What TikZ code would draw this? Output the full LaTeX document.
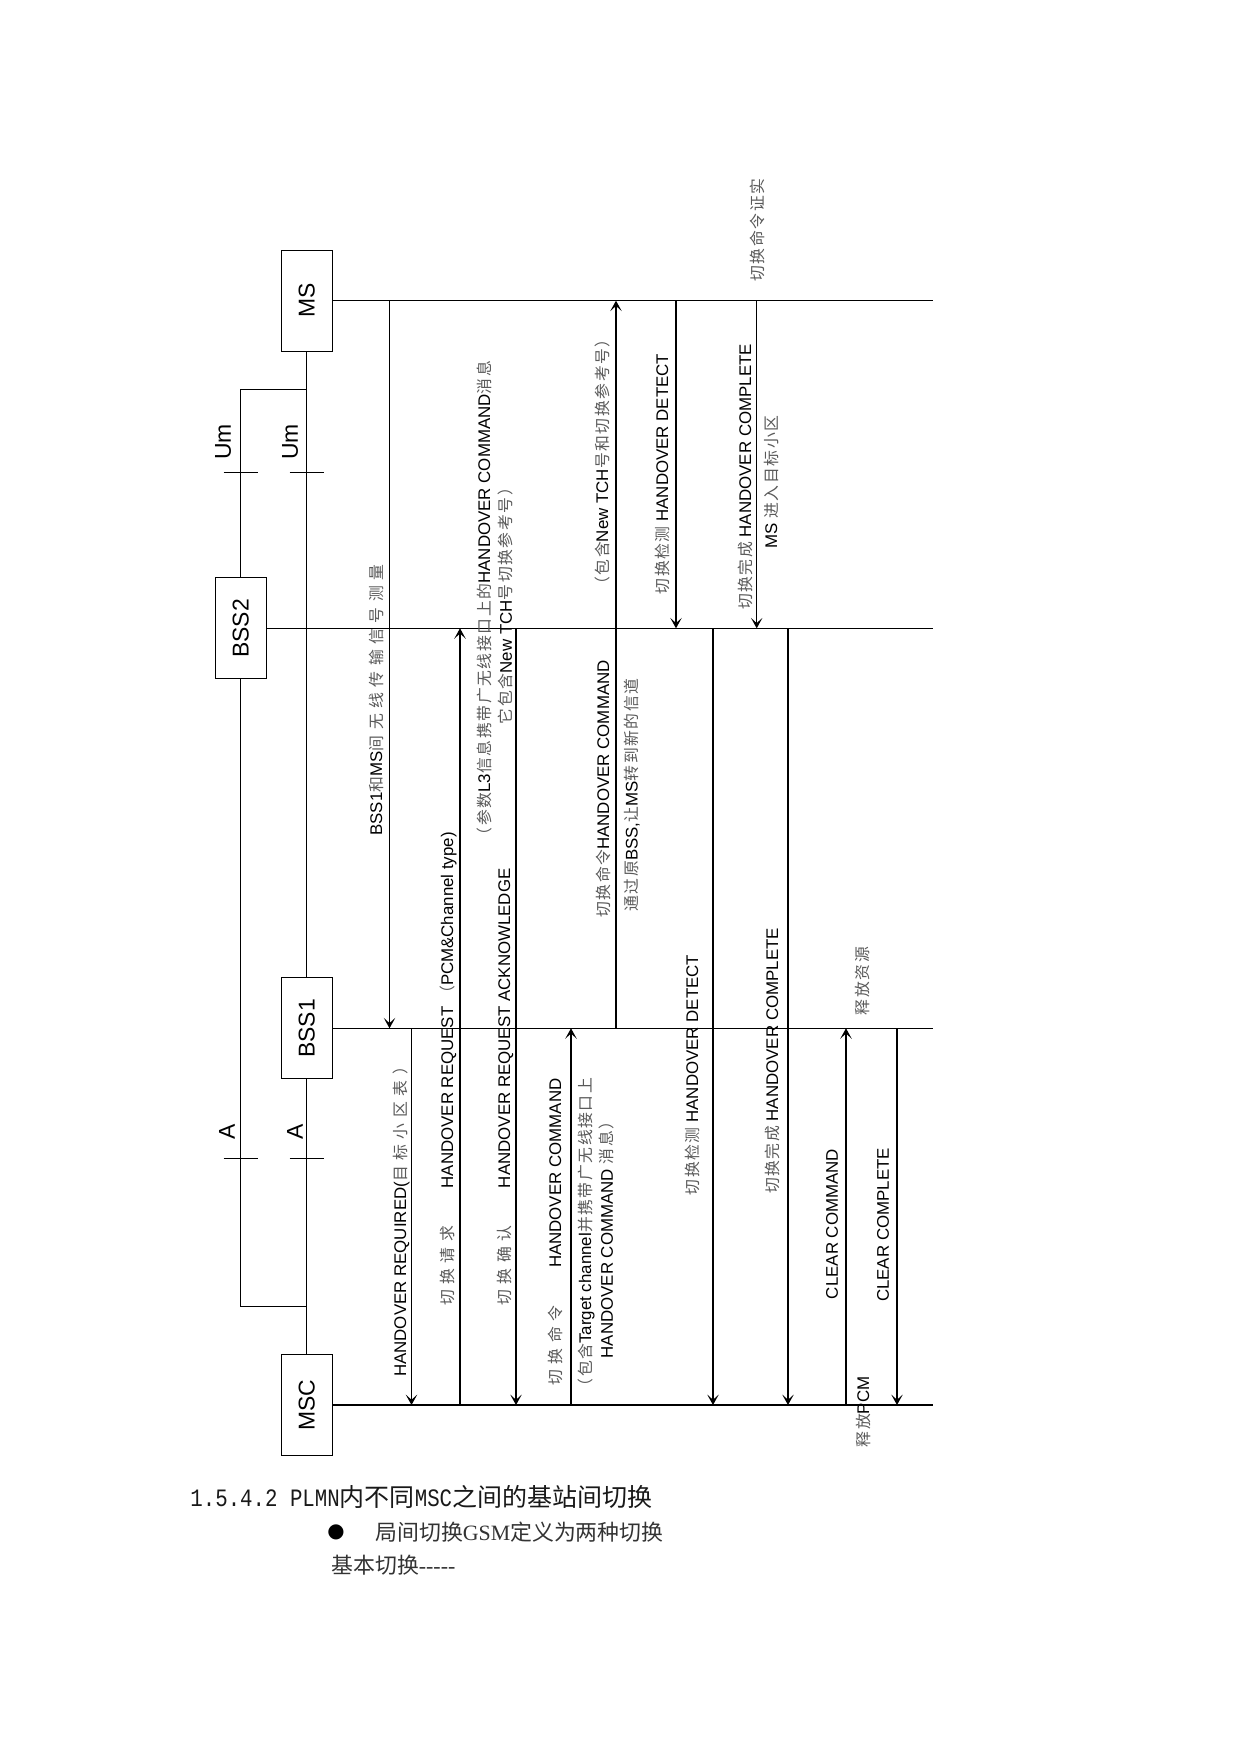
\documentclass[tikz,border=0pt]{standalone}
\usepackage{fontspec}
\setmainfont{Liberation Sans}
\newfontfamily\zhlab[LetterSpace=10]{Noto Sans CJK SC}
\newfontfamily\zhlabwide[LetterSpace=35]{Noto Sans CJK SC}
\newfontfamily\zhbody{Noto Sans CJK SC}
\newfontfamily\latmono[FakeStretch=0.83]{Liberation Mono}
\newfontfamily\latserif[Ligatures=TeXOff]{Liberation Serif}
\newfontfamily\symfont{DejaVu Sans}
\usetikzlibrary{arrows.meta,positioning,calc}
\newcommand{\zhtxt}[1]{{\fontsize{7.6}{10}\selectfont\zhlab\color{black!65}#1}}
\newcommand{\zhwide}[1]{{\fontsize{7.6}{10}\selectfont\zhlabwide\color{black!65}#1}}

\begin{document}
\begin{tikzpicture}[
    x=0.48pt, y=-0.48pt,
    every node/.style={font=\fontsize{8.1}{10.5}\selectfont},
    entity/.style={draw, line width=0.6pt, minimum width=24.5pt,
                   minimum height=48.5pt, inner sep=0pt,
                   font=\fontsize{11}{13}\selectfont},
    lifeline/.style={line width=0.6pt},
    msg/.style={line width=0.6pt,
                -{Stealth[length=5pt,width=5.5pt,inset=2.5pt]}},
    lab/.style={rotate=90, inner sep=0pt, align=center},
    ifname/.style={lab, font=\fontsize{11}{13}\selectfont},
  ]
  \useasboundingbox (0,0) rectangle (1241,1754);

  % entities and lifelines
  \node[entity] (ms)   at (306.7,300.7)  {\rotatebox{90}{MS}};
  \node[entity] (bss2) at (240.7,628.3)  {\rotatebox{90}{BSS2}};
  \node[entity] (bss1) at (306.7,1028.3) {\rotatebox{90}{BSS1}};
  \node[entity] (msc)  at (306.7,1405)   {\rotatebox{90}{MSC}};
  \foreach \n in {ms,bss2,bss1,msc} {
    \coordinate (\n-end) at (933,0 |- \n);
    \draw[lifeline] (\n.east) -- (\n-end);
  }

  % interfaces Um and A
  \coordinate (umJoin) at (306.7,389.3);
  \coordinate (aJoin)  at (306.7,1306.7);
  \draw[lifeline] (ms.south) -- (bss1.north);
  \draw[lifeline] (umJoin) -| (bss2.north);
  \draw[lifeline] (bss2.south) |- (aJoin);
  \draw[lifeline] (bss1.south) -- (msc.north);
  \coordinate (umRow) at (0,472.3);
  \coordinate (aRow)  at (0,1158.3);
  \foreach \n in {bss2,ms}  \draw[lifeline] (\n |- umRow) ++(-17,0) -- ++(34,0);
  \foreach \n in {bss2,msc} \draw[lifeline] (\n |- aRow) ++(-17,0) -- ++(34,0);
  \node[ifname] (umLeft)  at (223,442)  {Um};
  \node[ifname] (umRight) at (290,442)  {Um};
  \node[ifname] (aLeft)   at (227,1132) {A};
  \node[ifname] (aRight)  at (295,1132) {A};

  % messages
  \foreach \x/\a/\b [count=\i] in {389.5/ms/bss1, 411.5/bss1/msc, 460/msc/bss2,
      516/bss2/msc, 571/msc/bss1, 616/bss1/ms, 676/ms/bss2, 713/bss2/msc,
      756.7/ms/bss2, 788/bss2/msc, 846/msc/bss1, 897/bss1/msc} {
    \coordinate (t\i) at (\x,0);
    \draw[msg] (t\i |- \a) -- (t\i |- \b);
  }

  % message labels
  \node[lab] (measTxt) at (376,700) {BSS1\zhwide{和}MS\zhwide{间无线传输信号测量}};
  \node[lab] (reqdTxt) at (401,1218) {HANDOVER REQUIRED(\zhwide{目标小区表）}};
  \node[lab] (reqTxt) at (448,1069)
    {\zhwide{切换请求}\hspace{18pt}HANDOVER REQUEST \zhwide{（}PCM\&Channel type)};
  \node[lab] (ackTxt) at (505,1087)
    {\zhwide{切换确认}\hspace{18pt}HANDOVER REQUEST ACKNOWLEDGE};
  \node[lab] (ackNote) at (495,602)
    {\zhtxt{（参数}L3\zhtxt{信息携带广无线接口上的}HANDOVER COMMAND\zhtxt{消息}\\
     \zhtxt{它包含}New TCH\zhtxt{号切换参考号）}};
  \node[lab] (cmdTxt) at (555,1232) {\zhwide{切换命令}\hspace{18pt}HANDOVER COMMAND};
  \node[lab] (cmdNote) at (596,1236)
    {\zhtxt{（包含}Target channel\zhtxt{并携带广无线接口上}\\
     HANDOVER COMMAND \zhtxt{消息）}};
  \node[lab] (airCmdTxt) at (603,789) {\zhtxt{切换命令}HANDOVER COMMAND};
  \node[lab] (airCmdNote) at (632,795) {\zhtxt{通过原}BSS,\zhtxt{让}MS\zhtxt{转到新的信道}};
  \node[lab] (tchNote) at (602,462) {\zhtxt{（包含}New TCH\zhtxt{号和切换参考号）}};
  \node[lab] (detTxt) at (662,474) {\zhtxt{切换检测} HANDOVER DETECT};
  \node[lab] (detFwdTxt) at (692,1075) {\zhtxt{切换检测} HANDOVER DETECT};
  \node[lab] (cplTxt) at (745,477) {\zhtxt{切换完成} HANDOVER COMPLETE};
  \node[lab] (cplNote) at (771,482) {MS \zhtxt{进入目标小区}};
  \node[lab] (cplFwdTxt) at (772,1061) {\zhtxt{切换完成} HANDOVER COMPLETE};
  \node[lab] (clrCmdTxt) at (832,1224) {CLEAR COMMAND};
  \node[lab] (clrCplTxt) at (883,1225) {CLEAR COMPLETE};
  \node[lab] (relResTxt) at (862,981) {\zhtxt{释放资源}};
  \node[lab] (relPcmTxt) at (863,1412) {\zhtxt{释放}PCM};
  \node[lab] (ackCmdTxt) at (757,230) {\zhtxt{切换命令证实}};

  % text below the chart
  \node[anchor=west, inner sep=0pt, font=\fontsize{12}{14}\selectfont, text=black!90] (secHead) at (190,1497)
    {{\latmono 1.5.4.2 PLMN}{\zhbody 内不同}{\latmono MSC}{\zhbody 之间的基站间切换}};
  \node[inner sep=0pt, font=\fontsize{9.5}{11}\selectfont\symfont] (bullet) at (336,1532) {●};
  \node[anchor=west, inner sep=0pt, font=\fontsize{10.5}{13}\selectfont, text=black!80] (defLine) at (375,1532)
    {{\zhbody 局间切换}{\latserif GSM}{\zhbody 定义为两种切换}};
  \node[anchor=west, inner sep=0pt, font=\fontsize{10.5}{13}\selectfont, text=black!80] (basicLine) at (331,1565)
    {{\zhbody 基本切换}{\latserif -----}};
\end{tikzpicture}
\end{document}
